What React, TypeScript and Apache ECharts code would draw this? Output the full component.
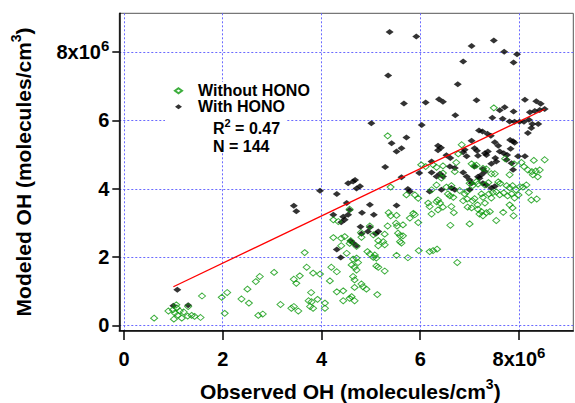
import React, { useEffect, useRef } from 'react';
import * as echarts from 'echarts';

// With HONO (black filled diamonds), units of 1e6 molecules/cm3
const withX = [5.38, 5.92, 7.04, 7.49, 7.70, 7.96, 7.89, 6.87, 5.35, 6.76, 5.67, 6.11, 6.38, 6.46, 7.14, 8.12, 8.35, 8.44, 7.61, 7.71,
  7.89, 8.22, 8.32, 8.42, 8.52, 6.71, 7.46, 7.67, 7.81, 7.91, 8.01, 8.10, 8.20, 8.27, 8.39, 8.25, 8.18, 5.01, 6.03, 5.72,
  5.42, 5.62, 5.52, 7.19, 7.26, 7.36, 7.43, 7.51, 7.82, 7.88, 7.91, 7.04, 6.36, 6.42, 6.36, 6.90, 6.87, 7.10, 7.15, 7.58,
  7.61, 7.31, 7.37, 7.69, 7.76, 7.83, 6.53, 6.61, 6.94, 7.17, 7.34, 7.52, 7.75, 8.12, 7.98, 7.44, 7.54, 6.23, 6.60, 6.70,
  7.10, 7.27, 7.31, 7.85, 7.88, 6.40, 6.46, 6.33, 6.87, 6.94, 7.24, 7.17, 7.20, 6.23, 5.29, 5.62, 5.98, 4.68, 7.00, 7.04,
  7.27, 7.34, 7.44, 7.51, 4.54, 4.64, 4.71, 4.78, 5.75, 5.79, 6.19, 6.63, 6.70, 7.00, 6.43, 3.97, 4.31, 4.51, 4.98, 5.52,
  3.44, 3.49, 4.57, 4.24, 4.44, 4.54, 4.82, 5.06, 4.40, 4.47, 4.79, 4.98, 4.94, 5.10, 5.15, 4.81, 4.59, 4.64, 4.71, 4.31,
  4.39, 1.08, 1.00, 1.30];
const withY = [8.59, 8.46, 8.18, 8.34, 8.01, 7.94, 7.70, 7.73, 7.32, 7.06, 6.50, 6.53, 6.62, 6.55, 6.59, 6.61, 6.56, 6.49, 6.30, 6.39,
  6.26, 6.24, 6.28, 6.31, 6.34, 6.15, 6.08, 6.05, 5.97, 5.96, 5.96, 5.96, 6.02, 5.90, 5.90, 5.78, 5.63, 5.92, 5.87, 5.50,
  5.33, 5.19, 5.09, 5.71, 5.68, 5.61, 5.55, 5.36, 5.43, 5.39, 5.35, 5.41, 5.26, 5.20, 5.13, 5.14, 5.07, 5.19, 5.11, 5.26,
  5.09, 5.04, 5.09, 5.04, 4.99, 5.17, 4.98, 4.90, 4.95, 4.97, 4.99, 4.90, 4.85, 4.95, 4.95, 4.73, 4.80, 4.80, 4.65, 4.61,
  4.65, 4.58, 4.50, 4.75, 4.56, 4.44, 4.36, 4.36, 4.48, 4.36, 4.41, 4.35, 4.31, 4.48, 4.64, 4.34, 4.46, 4.26, 4.26, 4.16,
  4.16, 4.11, 4.02, 4.07, 4.16, 4.21, 4.01, 4.07, 3.99, 3.92, 3.92, 4.02, 3.97, 3.97, 3.97, 3.94, 3.85, 3.58, 3.53, 3.51,
  3.50, 3.34, 3.38, 3.24, 3.18, 3.24, 3.30, 3.24, 3.02, 3.09, 2.89, 2.87, 2.75, 2.68, 2.75, 2.68, 2.47, 2.41, 2.33, 2.22,
  1.99, 1.04, 0.57, 0.59];

// Without HONO (green hollow diamonds)
const withoutX = [7.49, 5.34, 6.84, 6.77, 6.02, 6.11, 6.26, 6.33, 6.46, 6.73, 6.70, 7.04, 7.09, 7.14, 7.27, 7.34, 7.44, 7.51, 7.72, 7.81,
  7.90, 8.05, 8.10, 8.30, 8.52, 8.18, 8.26, 8.34, 8.42, 8.28, 8.38, 6.46, 6.43, 6.33, 6.53, 6.63, 6.80, 7.00, 7.06, 7.14,
  7.17, 7.31, 7.38, 7.58, 7.62, 7.75, 7.81, 7.87, 7.94, 8.02, 8.08, 8.15, 8.20, 8.25, 8.36, 7.54, 7.61, 7.69, 7.77, 7.85,
  7.91, 7.99, 7.81, 7.87, 6.23, 6.56, 6.60, 6.67, 6.90, 6.95, 7.24, 7.39, 7.47, 6.33, 6.40, 6.36, 6.87, 6.95, 7.06, 7.10,
  7.27, 7.44, 7.16, 7.31, 6.36, 6.46, 6.63, 6.68, 6.23, 6.96, 7.04, 7.17, 7.24, 7.20, 7.27, 7.34, 7.41, 7.68, 7.89, 7.54,
  7.00, 6.61, 6.26, 6.34, 6.75, 6.16, 6.19, 5.40, 5.89, 5.96, 5.72, 5.86, 5.89, 5.36, 5.40, 5.52, 5.51, 5.53, 5.65, 5.79,
  5.96, 5.34, 4.57, 4.24, 4.34, 4.98, 4.80, 4.81, 5.05, 5.28, 5.55, 5.59, 5.65, 4.24, 4.40, 4.47, 4.59, 4.57, 4.71, 5.15,
  5.25, 5.28, 4.40, 4.93, 5.15, 5.59, 5.62, 3.66, 4.51, 4.98, 5.05, 5.08, 5.11, 5.52, 5.75, 5.97, 6.19, 4.64, 4.71, 4.74,
  3.70, 4.20, 4.31, 4.61, 4.67, 4.71, 5.11, 5.15, 5.28, 3.56, 3.44, 3.83, 3.97, 4.64, 4.67, 4.17, 4.81, 4.84, 4.67, 4.91,
  5.13, 4.44, 4.31, 3.79, 4.61, 4.57, 4.67, 4.44, 3.74, 3.80, 3.77, 3.83, 3.92, 4.07, 4.07, 3.44, 3.53, 3.39, 3.49, 3.17,
  3.04, 2.67, 2.75, 2.72, 2.81, 2.50, 2.53, 2.38, 1.98, 2.09, 2.04, 1.58, 1.30, 1.29, 1.37, 1.43, 1.55, 0.61, 0.90, 0.99,
  1.03, 1.07, 1.09, 1.13, 1.17, 1.01, 1.06, 1.21];
const withoutY = [6.37, 5.55, 5.29, 5.02, 4.70, 4.65, 4.70, 4.63, 4.67, 4.77, 4.50, 4.73, 4.67, 4.69, 4.60, 4.58, 4.44, 4.44, 4.88, 4.41,
  4.73, 4.77, 4.65, 4.83, 4.85, 4.55, 4.50, 4.52, 4.55, 4.41, 4.35, 4.46, 4.31, 4.11, 4.05, 4.09, 3.95, 4.16, 4.09, 4.21,
  4.14, 4.11, 4.18, 4.20, 4.16, 4.09, 4.03, 4.09, 3.97, 4.06, 4.05, 4.11, 3.89, 3.67, 3.70, 3.91, 3.82, 3.88, 3.79, 3.85,
  3.73, 3.82, 3.53, 3.44, 3.97, 3.85, 3.79, 3.75, 3.85, 3.92, 3.85, 3.85, 3.89, 3.62, 3.58, 3.67, 3.65, 3.70, 3.65, 3.71,
  3.75, 3.73, 3.53, 3.58, 3.38, 3.46, 3.48, 3.30, 3.26, 3.46, 3.44, 3.40, 3.33, 3.26, 3.21, 3.30, 3.33, 3.31, 3.21, 3.07,
  2.97, 2.93, 2.19, 2.23, 1.84, 3.58, 3.48, 4.05, 3.82, 3.72, 3.82, 3.28, 3.24, 3.30, 3.21, 3.22, 2.99, 2.91, 2.94, 3.14,
  3.01, 2.91, 3.40, 3.09, 3.04, 2.91, 2.72, 2.58, 2.65, 2.67, 2.70, 2.63, 2.62, 2.57, 2.55, 2.60, 2.48, 2.40, 2.31, 2.48,
  2.45, 2.36, 2.33, 2.16, 2.33, 2.45, 2.41, 2.13, 2.11, 2.09, 1.99, 2.06, 1.97, 2.05, 1.98, 2.19, 2.16, 1.94, 1.97, 1.84,
  1.70, 1.70, 1.57, 1.77, 1.70, 1.62, 1.74, 1.70, 1.59, 1.45, 1.35, 1.53, 1.50, 1.43, 1.33, 1.30, 1.21, 1.13, 1.11, 1.06,
  0.90, 1.01, 0.98, 0.96, 0.84, 0.79, 0.72, 0.72, 0.72, 0.69, 0.55, 0.50, 0.76, 0.65, 0.50, 0.55, 0.42, 0.50, 1.23, 0.61,
  1.55, 1.28, 1.43, 0.29, 0.33, 1.06, 0.65, 0.77, 0.82, 0.96, 0.35, 0.86, 0.55, 0.27, 0.29, 0.26, 0.23, 0.21, 0.42, 0.45,
  0.36, 0.51, 0.30, 0.42, 0.21, 0.18, 0.60, 0.39];

// Regression line (fit to With HONO)
const fitX = [1.0, 8.52];
const fitY = [1.13, 6.33];

const tickValues = [0, 2, 4, 6, 8];
const seriesNames = ['Without HONO', 'With HONO'];
const statR2 = { label: 'R', sup: '2', rest: ' = 0.47' };
const statN = 'N = 144';
const xTitle = { main: 'Observed OH (molecules/cm', sup: '3', tail: ')' };
const yTitle = { main: 'Modeled OH (molecules/cm', sup: '3', tail: ')' };

const FONT = "'Liberation Sans', Arial, Helvetica, sans-serif";
const GREEN = '#0c9a0c';
const GRID_BLUE = '#6a6aff';

export default function App() {
  const ref = useRef<HTMLDivElement>(null);

  useEffect(() => {
    if (!ref.current) return;
    const chart = echarts.init(ref.current, null, { renderer: 'svg' });
    const zip = (xs: number[], ys: number[]) => xs.map((x, i) => [x, ys[i]]);

    // superscripts: top-aligned token with bottom padding, base tokens centred in the same line height
    const tickRich = {
      b: { fontSize: 20, fontWeight: 700, fontFamily: FONT, color: '#000', lineHeight: 29 },
      s: { fontSize: 15, fontWeight: 700, fontFamily: FONT, color: '#000', verticalAlign: 'top', padding: [0, 0, 14, 0] },
    };
    const titleRich = {
      b: { fontSize: 21, fontWeight: 700, fontFamily: FONT, color: '#000', lineHeight: 29 },
      s: { fontSize: 14, fontWeight: 700, fontFamily: FONT, color: '#000', verticalAlign: 'top', padding: [0, 0, 15, 0] },
    };
    const fmt = (v: number) => (v === 8 ? '{b|8x10}{s|6}' : `{b|${v}}`);
    const baseText = { fontSize: 20, fontWeight: 700, fontFamily: FONT, color: '#000' };

    const axisCommon = {
      type: 'value' as const,
      axisLine: { show: true, onZero: false, lineStyle: { color: '#000', width: 1.5 } },
      splitLine: { show: true, lineStyle: { color: GRID_BLUE, type: [2, 2], width: 1 } },
      nameLocation: 'middle' as const,
    };

    chart.setOption({
      animation: false,
      backgroundColor: '#fff',
      grid: {
        left: 119.3, right: 1.7, top: 13.3, bottom: 72.5,
        outerBoundsMode: 'none', containLabel: false,
        show: true, borderColor: '#555', borderWidth: 1, backgroundColor: 'transparent',
      },
      xAxis: {
        ...axisCommon,
        min: -0.095, max: 9.1,
        axisTick: { show: true, customValues: tickValues, length: 9.5, lineStyle: { color: '#000', width: 1.5 } },
        axisLabel: { ...baseText, customValues: tickValues, formatter: fmt, rich: tickRich, margin: 14 },
        name: `{b|${xTitle.main}}{s|${xTitle.sup}}{b|${xTitle.tail}}`,
        nameGap: 46,
        nameTextStyle: { ...baseText, fontSize: 21, rich: titleRich, padding: [0, 0, 0, 8] },
      },
      yAxis: {
        ...axisCommon,
        min: -0.152, max: 9.14,
        axisTick: { show: true, customValues: tickValues, length: 7, lineStyle: { color: '#000', width: 1.5 } },
        axisLabel: { ...baseText, customValues: tickValues, formatter: fmt, rich: tickRich, margin: 10 },
        name: `{b|${yTitle.main}}{s|${yTitle.sup}}{b|${yTitle.tail}}`,
        nameGap: 81,
        nameTextStyle: { ...baseText, fontSize: 21, rich: titleRich },
      },
      legend: {
        data: seriesNames,
        orient: 'vertical',
        left: 174, top: 82.8,
        itemWidth: 7, itemHeight: 5, itemGap: 0,
        padding: 0,
        z: 6,
        textStyle: { fontSize: 16, fontWeight: 700, fontFamily: FONT, color: '#000', padding: [0, 0, 0, 11], lineHeight: 16 },
      },
      graphic: [
        { type: 'rect', shape: { x: 165, y: 82, width: 122, height: 68 }, style: { fill: '#fff' }, z: 3, silent: true },
        {
          type: 'text', x: 213, y: 128, z: 6,
          style: {
            text: `{b|${statR2.label}}{s|${statR2.sup}}{b|${statR2.rest}}`,
            verticalAlign: 'middle',
            fontSize: 16, fontWeight: 700, fontFamily: FONT, fill: '#000',
            rich: {
              b: { fontSize: 16, fontWeight: 700, fontFamily: FONT, fill: '#000', lineHeight: 21 },
              s: { fontSize: 11, fontWeight: 700, fontFamily: FONT, fill: '#000', verticalAlign: 'top', padding: [0, 0, 10, 0] },
            },
          },
        },
        {
          type: 'text', x: 213, y: 146, z: 6,
          style: { text: statN, verticalAlign: 'middle', fontSize: 16, fontWeight: 700, fontFamily: FONT, fill: '#000' },
        },
      ],
      series: [
        {
          name: seriesNames[1], type: 'scatter', data: zip(withX, withY),
          symbol: 'diamond', symbolSize: [8, 6],
          itemStyle: { color: '#000' }, z: 2,
        },
        {
          name: seriesNames[0], type: 'scatter', data: zip(withoutX, withoutY),
          symbol: 'diamond', symbolSize: [7, 6],
          itemStyle: { color: 'rgba(255,255,255,0)', borderColor: GREEN, borderWidth: 1 }, z: 3,
        },
        {
          name: 'fit', type: 'line', data: zip(fitX, fitY), symbol: 'none', silent: true,
          lineStyle: { color: '#ff0000', width: 1.3 }, z: 4,
        },
      ],
    });

    return () => chart.dispose();
  }, []);

  return <div ref={ref} style={{ position: 'absolute', left: 0, top: 0, width: 575, height: 403 }} />;
}
